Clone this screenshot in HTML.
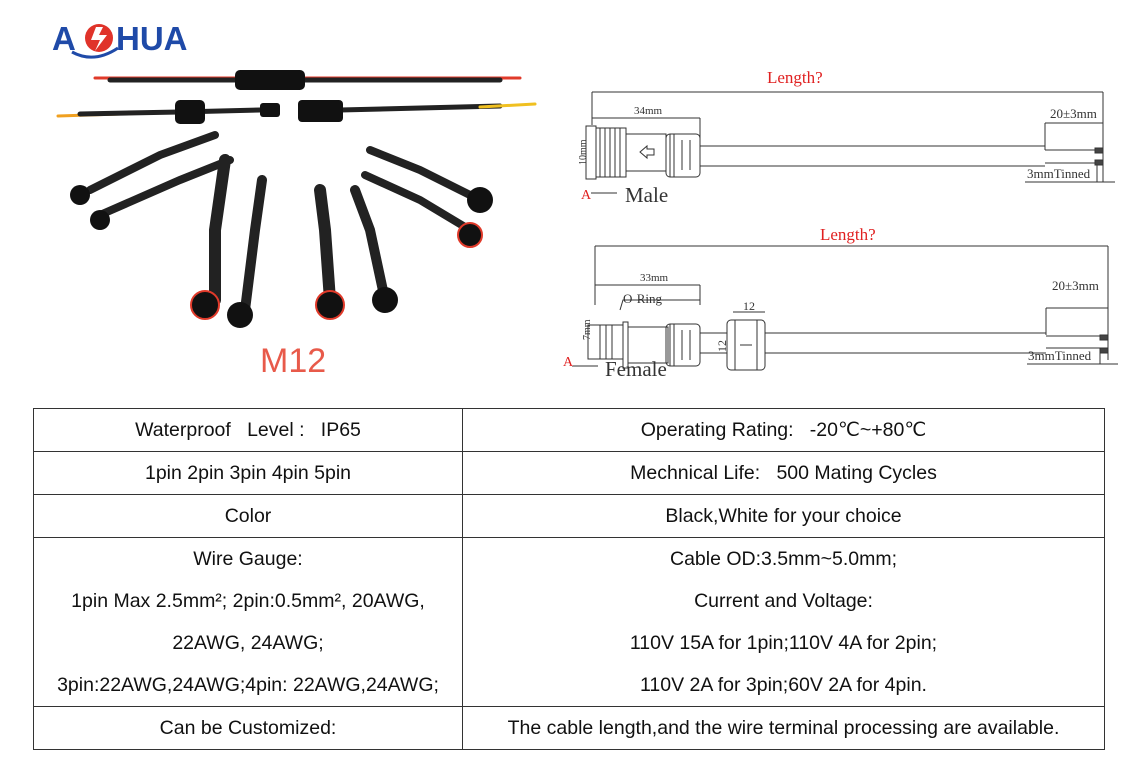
<!DOCTYPE html>
<html><head><meta charset="utf-8"><style>
body{margin:0;width:1126px;height:771px;background:#fff;position:relative;overflow:hidden;font-family:"Liberation Sans",sans-serif}
table{position:absolute;left:33px;top:408px;border-collapse:collapse;width:1072px}
td{border:1px solid #333;text-align:center;font-size:19.5px;color:#111;padding:0}
.r td{height:42px}
.big td{line-height:42px}
</style></head><body>
<svg width="1126" height="400" style="position:absolute;left:0;top:0" font-family="Liberation Serif,serif">
<!-- logo -->
<text x="52" y="50" font-family="Liberation Sans" font-weight="bold" font-size="33" fill="#1f4aa8">A</text>
<circle cx="99" cy="38" r="14" fill="#e0332a"/>
<path d="M96 27 L91 40 L100 40 L95 51 L107 35 L99 35 L103 27Z" fill="#fff"/>
<path d="M72 52 Q94 64 118 48" stroke="#1f4aa8" stroke-width="3" fill="none"/>
<text x="116" y="50" font-family="Liberation Sans" font-weight="bold" font-size="33" fill="#1f4aa8">HUA</text>
<!-- photo approximations -->
<g stroke-linecap="round" fill="none">
<path d="M95 78 L520 78" stroke="#e03a2a" stroke-width="3"/>
<path d="M110 80 L500 80" stroke="#222" stroke-width="5"/>
<rect x="235" y="70" width="70" height="20" rx="5" fill="#111"/>
<path d="M58 116 L180 112" stroke="#f0a020" stroke-width="3"/>
<path d="M80 114 L180 112 L260 110" stroke="#222" stroke-width="5"/>
<rect x="175" y="100" width="30" height="24" rx="5" fill="#111"/>
<rect x="260" y="103" width="20" height="14" rx="3" fill="#111"/>
<path d="M340 110 L500 106" stroke="#222" stroke-width="5"/>
<path d="M480 107 L535 104" stroke="#f0c020" stroke-width="3"/>
<rect x="298" y="100" width="45" height="22" rx="4" fill="#111"/>
<path d="M90 190 L160 155 L215 135" stroke="#222" stroke-width="8"/>
<path d="M100 215 L180 180 L230 160" stroke="#222" stroke-width="8"/>
<path d="M215 300 L215 230 L225 160" stroke="#222" stroke-width="12"/>
<path d="M245 310 L255 230 L262 180" stroke="#222" stroke-width="10"/>
<path d="M330 300 L325 230 L320 190" stroke="#222" stroke-width="12"/>
<path d="M385 300 L370 230 L355 190" stroke="#222" stroke-width="10"/>
<path d="M480 200 L420 170 L370 150" stroke="#222" stroke-width="8"/>
<path d="M470 230 L420 200 L365 175" stroke="#222" stroke-width="8"/>
<circle cx="80" cy="195" r="10" fill="#111"/>
<circle cx="100" cy="220" r="10" fill="#111"/>
<circle cx="205" cy="305" r="14" fill="#111" stroke="#e03a2a" stroke-width="2"/>
<circle cx="240" cy="315" r="13" fill="#111"/>
<circle cx="330" cy="305" r="14" fill="#111" stroke="#e03a2a" stroke-width="2"/>
<circle cx="385" cy="300" r="13" fill="#111"/>
<circle cx="480" cy="200" r="13" fill="#111"/>
<circle cx="470" cy="235" r="12" fill="#111" stroke="#e03a2a" stroke-width="2"/>
</g>
<text x="260" y="372" font-family="Liberation Sans" font-size="34" fill="#e85a4a">M12</text>
<!-- drawing male -->
<g stroke="#333" stroke-width="1" fill="none">
<path d="M592 92 H1103 M592 92 V125 M1103 92 V182"/>
<path d="M592 118 H700 M700 118 V140"/>
<path d="M1045 123 H1103 M1045 123 V150"/>
<rect x="586" y="126" width="10" height="53"/>
<rect x="596" y="128" width="30" height="49"/>
<path d="M600 128V177M605 128V177M610 128V177M615 128V177M620 128V177"/>
<rect x="626" y="134" width="40" height="37"/>
<rect x="666" y="134" width="34" height="43" rx="4"/>
<path d="M670 134V177M674 134V177M682 140V170M690 140V170"/>
<path d="M700 146H1045M700 166H1045 M1045 150H1095M1045 163H1095"/>
<rect x="1095" y="148" width="8" height="5" fill="#444"/>
<rect x="1095" y="160" width="8" height="5" fill="#444"/>
<path d="M1025 182H1115M1097 165V182"/>
<path d="M640 152 L647 146 L647 149 L654 149 L654 155 L647 155 L647 158Z"/>
<path d="M591 193 H617"/>
</g>
<text x="575" y="160" font-size="10" fill="#333" transform="rotate(-90 583 157)">10mm</text>
<text x="634" y="114" font-size="11" fill="#333">34mm</text>
<text x="1050" y="118" font-size="13" fill="#333">20±3mm</text>
<text x="1027" y="178" font-size="13" fill="#333">3mmTinned</text>
<text x="767" y="83" font-size="17" fill="#e02020">Length?</text>
<text x="581" y="199" font-size="14" fill="#e02020">A</text>
<text x="625" y="202" font-size="21" fill="#333">Male</text>
<!-- drawing female -->
<g stroke="#333" stroke-width="1" fill="none">
<path d="M595 246 H1108 M595 246 V305 M1108 246 V360"/>
<path d="M595 285 H700 M700 285 V305"/>
<path d="M620 310 L623 300 H700"/>
<path d="M1046 308 H1108 M1046 308 V335"/>
<rect x="588" y="325" width="35" height="34"/>
<path d="M600 325V359M606 325V359M612 325V359"/>
<rect x="623" y="322" width="5" height="46"/>
<rect x="628" y="327" width="40" height="36"/>
<rect x="666" y="324" width="34" height="42" rx="4"/>
<path d="M670 324V366M674 324V366M682 330V360M690 330V360"/>
<path d="M700 333H727M700 353H727"/>
<rect x="727" y="320" width="38" height="50" rx="4"/>
<path d="M735 320V370M757 320V370M740 345H752 M733 312H765"/>
<path d="M765 333H1046M765 353H1046M1046 336H1100M1046 348H1100"/>
<rect x="1100" y="335" width="8" height="5" fill="#444"/>
<rect x="1100" y="348" width="8" height="5" fill="#444"/>
<path d="M1027 364H1118M1100 353V364"/>
<path d="M572 366 H598"/>
</g>
<text x="580" y="340" font-size="10" fill="#333" transform="rotate(-90 585 335)">7mm</text>
<text x="640" y="281" font-size="11" fill="#333">33mm</text>
<text x="623" y="303" font-size="13" fill="#333">O-Ring</text>
<text x="743" y="310" font-size="12" fill="#333">12</text>
<text x="712" y="350" font-size="12" fill="#333" transform="rotate(-90 720 344)">12</text>
<text x="1052" y="290" font-size="13" fill="#333">20±3mm</text>
<text x="1028" y="360" font-size="13" fill="#333">3mmTinned</text>
<text x="820" y="240" font-size="17" fill="#e02020">Length?</text>
<text x="563" y="366" font-size="14" fill="#e02020">A</text>
<text x="605" y="376" font-size="21" fill="#333">Female</text>
</svg>
<table>
<colgroup><col style="width:429px"><col></colgroup>
<tr class="r"><td>Waterproof &nbsp;&nbsp;Level : &nbsp;&nbsp;IP65</td><td>Operating Rating: &nbsp;&nbsp;-20℃~+80℃</td></tr>
<tr class="r"><td>1pin 2pin 3pin 4pin 5pin</td><td>Mechnical Life: &nbsp;&nbsp;500 Mating Cycles</td></tr>
<tr class="r"><td>Color</td><td>Black,White for your choice</td></tr>
<tr class="big"><td style="height:168px">Wire Gauge:<br>1pin Max 2.5mm²; 2pin:0.5mm², 20AWG,<br>22AWG, 24AWG;<br>3pin:22AWG,24AWG;4pin: 22AWG,24AWG;</td><td>Cable OD:3.5mm~5.0mm;<br>Current and Voltage:<br>110V 15A for 1pin;110V 4A for 2pin;<br>110V 2A for 3pin;60V 2A for 4pin.</td></tr>
<tr class="r"><td>Can be Customized:</td><td>The cable length,and the wire terminal processing are available.</td></tr>
</table>
</body></html>
